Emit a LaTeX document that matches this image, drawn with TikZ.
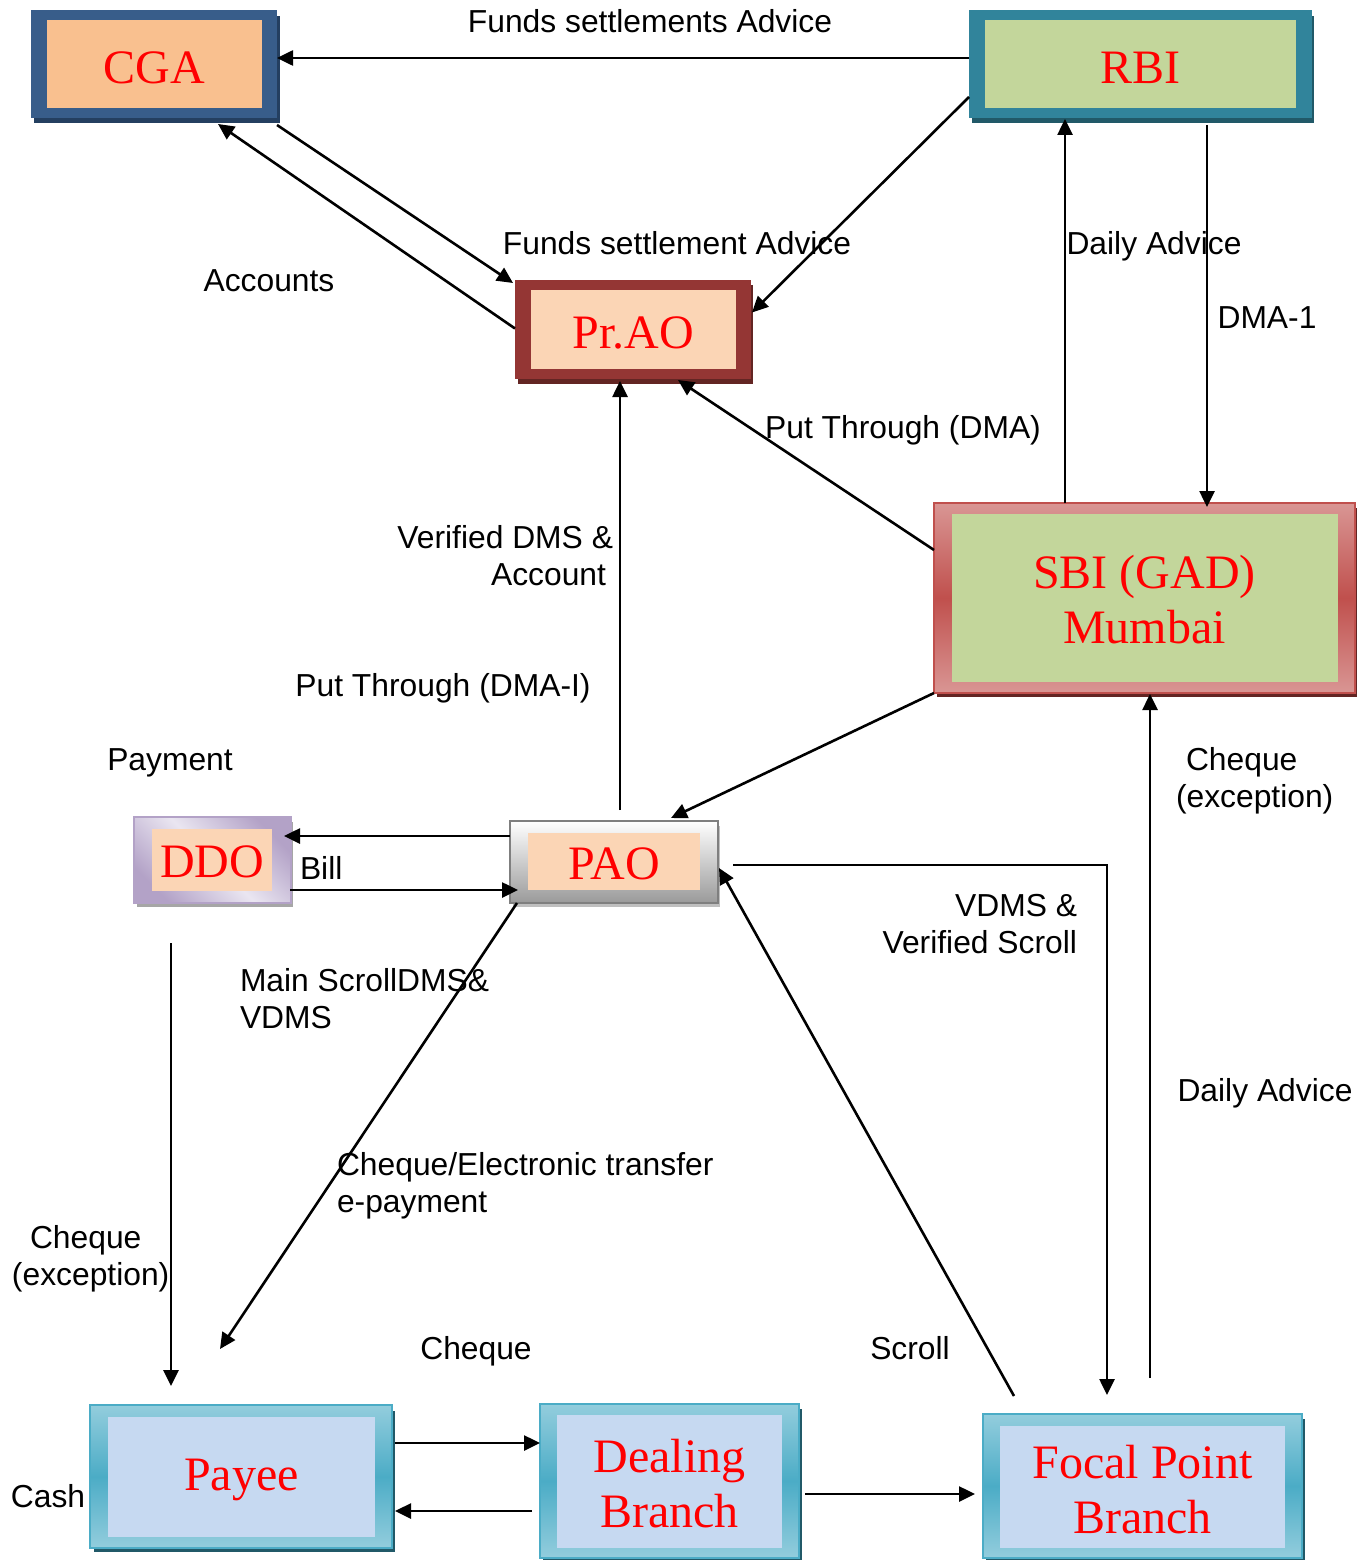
\documentclass[tikz,border=0pt]{standalone}
\usepackage{fontspec}
\setmainfont{Liberation Serif}
\newfontfamily\lab{Liberation Sans}
\usetikzlibrary{arrows.meta,calc}
\definecolor{cgaF}{HTML}{385D8A}
\definecolor{cgaS}{HTML}{243F60}
\definecolor{peachA}{HTML}{F9C08F}
\definecolor{peachB}{HTML}{FBD5B5}
\definecolor{rbiF}{HTML}{31849B}
\definecolor{rbiS}{HTML}{215968}
\definecolor{greenF}{HTML}{C3D69B}
\definecolor{praoF}{HTML}{943634}
\definecolor{redS}{HTML}{632523}
\definecolor{sbiL}{HTML}{D99694}
\definecolor{sbiM}{HTML}{C0504D}
\definecolor{ddoL}{HTML}{EAE6F1}
\definecolor{ddoM}{HTML}{B3A2C7}
\definecolor{ddoS}{HTML}{A6A6A6}
\definecolor{paoB}{HTML}{7F7F7F}
\definecolor{paoD}{HTML}{9A9A9A}
\definecolor{paoS}{HTML}{BFBFBF}
\definecolor{tealL}{HTML}{93CDDD}
\definecolor{tealM}{HTML}{4BACC6}
\definecolor{blueF}{HTML}{C6D9F1}
\newcommand\dn[2][3.5pt]{\raisebox{-#1}[\height][\depth]{#2}}
\tikzset{
 lbl/.style={font=\lab\fontsize{31.8}{37.5}\selectfont, inner sep=0pt, outer sep=0pt},
 frm/.style={inner sep=0pt, outer sep=0pt, line width=1.5pt},
 inr/.style={inner sep=0pt, outer sep=0pt, font=\fontsize{48}{55}\selectfont, text=red, align=center},
 arr/.style={line width=2.6pt, -{Triangle[length=16pt,width=15pt]}},
 tealfrm/.style={frm, draw=tealM, top color=tealL, bottom color=tealL, middle color=tealM},
}
\begin{document}
\begin{tikzpicture}[x=1pt,y=-1pt]
\useasboundingbox (0,0) rectangle (1364,1560);
% shadows
\fill[cgaS] (34,16) rectangle (280,123);
\fill[rbiS] (972,16) rectangle (1314,123);
\fill[redS] (518,285) rectangle (753,384);
\fill[redS] (937,508) rectangle (1357,697);
\fill[ddoS] (137,822) rectangle (293,907);
\fill[paoS] (513,826) rectangle (720,907);
\fill[rbiS] (94,1411) rectangle (395,1552);
\fill[rbiS] (543,1409) rectangle (802,1560);
\fill[rbiS] (986,1419) rectangle (1305,1560);
% boxes
\node[frm, fill=cgaF, minimum width=246pt, minimum height=108pt] (cga) at (154,64) {};
\node[inr, fill=peachA, minimum width=215pt, minimum height=88pt] (cgat) at (cga) {\dn{CGA}};
\node[frm, fill=rbiF, minimum width=343pt, minimum height=108pt] (rbi) at (1140.5,64) {};
\node[inr, fill=greenF, minimum width=311pt, minimum height=88pt] (rbit) at (rbi) {\dn{RBI}};
\node[frm, fill=praoF, minimum width=236pt, minimum height=99pt] (prao) at (633,329.5) {};
\node[inr, fill=peachB, minimum width=205pt, minimum height=79pt] (praot) at (prao) {\dn{Pr.AO}};
\node[frm, draw=sbiM, top color=sbiL, bottom color=sbiL, middle color=sbiM, minimum width=421pt, minimum height=190pt] (sbi) at (1144.5,598) {};
\node[inr, fill=greenF, minimum width=386pt, minimum height=168pt] (sbit) at (sbi) {\dn[1.5pt]{SBI (GAD)}\\\dn[1.5pt]{Mumbai}};
\node[frm, draw=ddoM, shading=axis, left color=ddoM, right color=ddoM, middle color=ddoL, shading angle=135, minimum width=157pt, minimum height=86pt] (ddo) at (212.5,860) {};
\node[inr, fill=peachB, minimum width=120pt, minimum height=62pt] (ddot) at (212,860) {\dn[2pt]{DDO}};
\node[frm, draw=paoB, top color=white, bottom color=paoD, minimum width=208pt, minimum height=82pt] (pao) at (614,862) {};
\node[inr, fill=peachB, minimum width=172pt, minimum height=57pt] (paot) at (614,861.5) {\dn[2pt]{PAO}};
\node[tealfrm, minimum width=302pt, minimum height=143pt] (payee) at (241,1476.5) {};
\node[inr, fill=blueF, minimum width=267pt, minimum height=120pt] (payeet) at (241.5,1477) {\dn[2.5pt]{Payee}};
\node[tealfrm, minimum width=259pt, minimum height=154pt] (deal) at (669.5,1481) {};
\node[inr, fill=blueF, minimum width=225pt, minimum height=133pt] (dealt) at (669.5,1481.5) {\dn[2pt]{Dealing}\\\dn[2pt]{Branch}};
\node[tealfrm, minimum width=319pt, minimum height=144pt] (focal) at (1142.5,1486) {};
\node[inr, fill=blueF, minimum width=285pt, minimum height=122pt] (focalt) at (1142.5,1487) {\dn[2.5pt]{Focal Point}\\\dn[2.5pt]{Branch}};
% connectors
\draw[arr] ($(rbi.west)+(0,-6)$) -- ($(cga.east)+(0,-6)$);
\draw[arr] ($(cga.south east)+(0,7)$) -- ($(prao.north west)+(-2,3)$);
\draw[arr] ($(prao.west)+(0,-1)$) -- ($(cga.south)+(64,6)$);
\draw[arr] ($(rbi.west)+(0,33)$) -- ($(prao.east)+(1,-17)$);
\draw[arr] ($(sbi.north)+(-79.5,0)$) -- ($(rbi.south)+(-75.5,1)$);
\draw[arr] ($(rbi.south)+(66.5,7)$) -- ($(sbi.north)+(62.5,4)$);
\draw[arr] ($(sbi.west)+(0,-48)$) -- ($(prao.south)+(45,1)$);
\draw[arr] ($(pao.north)+(6,-11)$) -- ($(prao.south)+(-13,2)$);
\draw[arr] (sbi.south west) -- ($(pao.north)+(57,-3)$);
\draw[arr] ($(pao.west)+(0,-26)$) -- ($(ddo.east)+(-7,-24)$);
\draw[arr] ($(ddo.east)+(-1,30)$) -- ($(pao.west)+(8,28)$);
\draw[arr] ($(ddo.south)+(-41.5,40)$) -- ($(payee.north)+(-70,-19)$);
\draw[arr] ($(pao.south west)+(7,0)$) -- ($(payee.north)+(-21,-56)$);
\draw[arr] ($(focal.north)+(-128.5,-18)$) -- ($(pao.east)+(1,6)$);
\draw[arr] ($(pao.east)+(15,3)$) -| ($(focal.north)+(-35.5,-19)$);
\draw[arr] ($(focal.north)+(7.5,-36)$) -- ($(sbi.south)+(5.5,1)$);
\draw[arr] ($(payee.east)+(3,-33.5)$) -- ($(deal.west)+(0,-38)$);
\draw[arr] ($(deal.west)+(-8,30)$) -- ($(payee.east)+(3,34.5)$);
\draw[arr] ($(deal.east)+(6,13)$) -- ($(focal.west)+(-8,8)$);
% labels
\node[lbl, anchor=base] (l1) at (650,33) {Funds settlements Advice};
\node[lbl, anchor=base] (l2) at (269,291) {Accounts};
\node[lbl, anchor=base] (l3) at (677,254) {Funds settlement Advice};
\node[lbl, anchor=base] (l4) at (1154,254) {Daily Advice};
\node[lbl, anchor=base] (l5) at (1267,328) {DMA-1};
\node[lbl, anchor=base] (l6) at (903,438) {Put Through (DMA)};
\node[lbl, anchor=north east, align=right] (l7) at (613,525) {Verified DMS \&\\Account\hspace*{7pt}};
\node[lbl, anchor=base] (l8) at (443,696) {Put Through (DMA-I)};
\node[lbl, anchor=base] (l9) at (170,770) {Payment};
\node[lbl, anchor=base west] (l10) at (300,879) {Bill};
\node[lbl, anchor=north west, align=left] (l11) at (1176,747) {\hspace*{10pt}Cheque\\(exception)};
\node[lbl, anchor=north east, align=right] (l12) at (1077,894) {VDMS \&\\Verified Scroll};
\node[lbl, anchor=north west, align=left] (l13) at (240,968) {Main ScrollDMS\&\\VDMS};
\node[lbl, anchor=base] (l14) at (1265,1101) {Daily Advice};
\node[lbl, anchor=north west, align=left] (l15) at (337,1152) {Cheque/Electronic transfer\\e-payment};
\node[lbl, anchor=north west, align=left] (l16) at (12,1225) {\hspace*{18pt}Cheque\\(exception)};
\node[lbl, anchor=base] (l17) at (476,1359) {Cheque};
\node[lbl, anchor=base] (l18) at (910,1359) {Scroll};
\node[lbl, anchor=base] (l19) at (48,1507) {Cash};
\end{tikzpicture}
\end{document}
